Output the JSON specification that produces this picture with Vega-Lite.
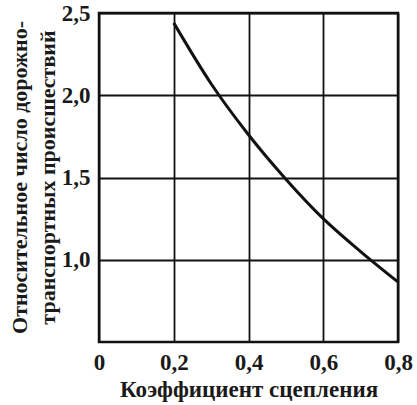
{
  "$schema": "https://vega.github.io/schema/vega-lite/v6.json",
  "width": 299,
  "height": 329,
  "autosize": "none",
  "padding": {"left": 99, "top": 13, "right": 19, "bottom": 63},
  "background": "white",
  "config": {
    "view": {"stroke": "#111", "strokeWidth": 2.5},
    "font": "Liberation Serif",
    "axis": {
      "labelFont": "Liberation Serif",
      "labelFontWeight": "bold",
      "labelFontSize": 23,
      "labelColor": "#1a1a1a",
      "titleFont": "Liberation Serif",
      "titleFontWeight": "bold",
      "titleFontSize": 22,
      "titleColor": "#1a1a1a",
      "grid": true,
      "gridColor": "#111",
      "gridWidth": 1.8,
      "gridOpacity": 1,
      "ticks": false,
      "domain": false
    }
  },
  "data": {
    "values": [
      {"k": 0.2, "n": 2.44},
      {"k": 0.3, "n": 2.07},
      {"k": 0.4, "n": 1.76},
      {"k": 0.5, "n": 1.49},
      {"k": 0.6, "n": 1.25},
      {"k": 0.7, "n": 1.05},
      {"k": 0.8, "n": 0.865}
    ]
  },
  "mark": {"type": "line", "color": "#111", "strokeWidth": 3, "interpolate": "monotone"},
  "encoding": {
    "x": {
      "field": "k",
      "type": "quantitative",
      "scale": {"domain": [0, 0.8], "nice": false, "zero": false},
      "axis": {
        "values": [0, 0.2, 0.4, 0.6, 0.8],
        "labelExpr": "datum.value == 0 ? '0' : replace(format(datum.value, '.1f'), '.', ',')",
        "labelPadding": 9,
        "labelFlush": false,
        "title": "Коэффициент сцепления",
        "titleFontSize": 23,
        "titlePadding": 4
      }
    },
    "y": {
      "field": "n",
      "type": "quantitative",
      "scale": {"domain": [0.5, 2.5], "nice": false, "zero": false},
      "axis": {
        "values": [1.0, 1.5, 2.0, 2.5],
        "labelExpr": "replace(format(datum.value, '.1f'), '.', ',')",
        "labelPadding": 9,
        "labelFlush": false,
        "title": ["Относительное число дорожно-", "транспортных происшествий"],
        "titleLineHeight": 28,
        "titleAngle": -90,
        "titleBaseline": "middle",
        "titleX": -80,
        "titleY": 164
      }
    }
  }
}
